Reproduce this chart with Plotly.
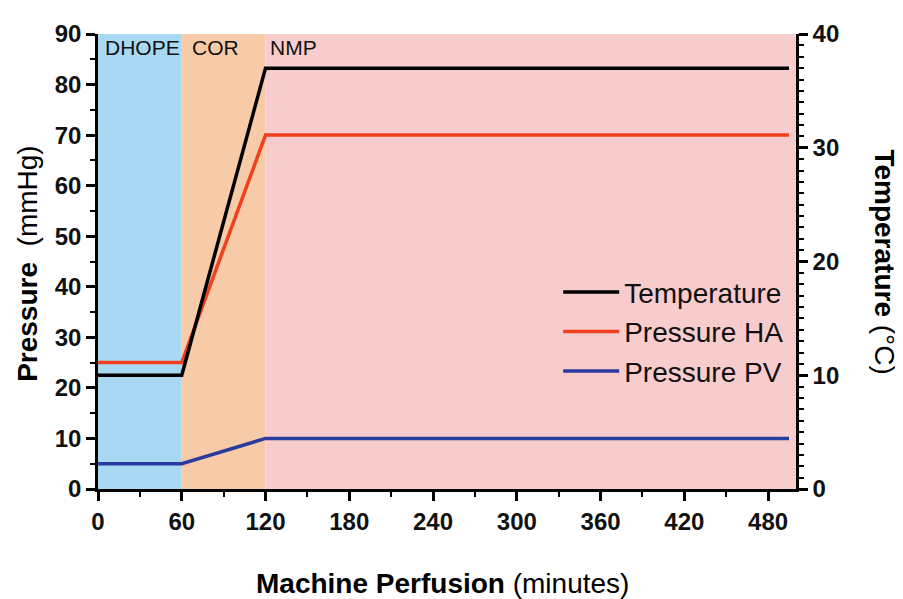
import plotly.graph_objects as go

# ---- data ----
time_min = [0, 60, 120, 495]
temperature_c = [10, 10, 37, 37]
pressure_ha = [25, 25, 70, 70]
pressure_pv = [5, 5, 10, 10]

phase_names = ["DHOPE", "COR", "NMP"]
phase_start = [0, 60, 120]
phase_end = [60, 120, 500]
phase_colors = ["#A8D8F2", "#F8CBA8", "#F8CCCC"]
phase_label_x = [3.5, 66, 122]

x_ticks = [0, 60, 120, 180, 240, 300, 360, 420, 480]
x_minor = [30, 90, 150, 210, 270, 330, 390, 450]

FONT = "Liberation Sans, Arial, sans-serif"

fig = go.Figure()

fig.add_trace(go.Scatter(x=time_min, y=temperature_c, name="Temperature", mode="lines",
                         line=dict(color="#000000", width=3.5), yaxis="y2"))
fig.add_trace(go.Scatter(x=time_min, y=pressure_ha, name="Pressure HA", mode="lines",
                         line=dict(color="#F0401E", width=3.5)))
fig.add_trace(go.Scatter(x=time_min, y=pressure_pv, name="Pressure PV", mode="lines",
                         line=dict(color="#2B3A9E", width=3.5)))

for s, e, c in zip(phase_start, phase_end, phase_colors):
    fig.add_vrect(x0=s, x1=e, fillcolor=c, opacity=1, line_width=0, layer="below")

for name, lx in zip(phase_names, phase_label_x):
    fig.add_annotation(x=lx, y=87.3, xref="x", yref="y", text=name, showarrow=False,
                       xanchor="left", yanchor="middle",
                       font=dict(family=FONT, size=21, color="#111111"))

# axis titles
fig.add_annotation(xref="paper", yref="paper", x=-0.1003, y=0.497, textangle=-90,
                   text="<b>Pressure</b>  (mmHg)", showarrow=False,
                   xanchor="center", yanchor="middle",
                   font=dict(family=FONT, size=28, color="#000000"))
fig.add_annotation(xref="paper", yref="paper", x=1.1275, y=0.498, textangle=90,
                   text="<b>Temperature</b> (°C)", showarrow=False,
                   xanchor="center", yanchor="middle",
                   font=dict(family=FONT, size=28, color="#000000"))
fig.add_annotation(xref="paper", yref="paper", x=0.4936, y=-0.2086,
                   text="<b>Machine Perfusion</b> (minutes)", showarrow=False,
                   xanchor="center", yanchor="middle",
                   font=dict(family=FONT, size=28, color="#000000"))

axis_common = dict(showgrid=False, zeroline=False, showline=True, linecolor="#000000",
                   linewidth=2.5, ticks="outside", ticklen=9, tickwidth=2.5, tickcolor="#000000",
                   tickfont=dict(family=FONT, size=24, color="#111111", weight="bold"))

fig.update_layout(
    width=895, height=591,
    margin=dict(l=90, r=107, t=16, b=110),
    paper_bgcolor="white", plot_bgcolor="white",
    showlegend=True,
    legend=dict(x=0.6593, y=0.487, xanchor="left", yanchor="top",
                bgcolor="rgba(0,0,0,0)", font=dict(family=FONT, size=28, color="#111111"),
                tracegroupgap=0, itemwidth=56),
    xaxis=dict(range=[0, 500], tickvals=x_ticks, ticktext=[str(v) for v in x_ticks],
               minor=dict(tickvals=x_minor, ticklen=5, tickwidth=2, tickcolor="#000000",
                          ticks="outside"),
               **axis_common),
    yaxis=dict(range=[0, 90], dtick=10, tick0=0,
               minor=dict(dtick=5, ticklen=5, tickwidth=2, tickcolor="#000000", ticks="outside"),
               **axis_common),
    yaxis2=dict(range=[0, 40], dtick=10, tick0=0, overlaying="y", side="right", anchor="x",
                minor=dict(dtick=1, ticklen=5, tickwidth=1.5, tickcolor="#000000", ticks="outside"),
                **axis_common),
)

fig.write_html("out.html")
